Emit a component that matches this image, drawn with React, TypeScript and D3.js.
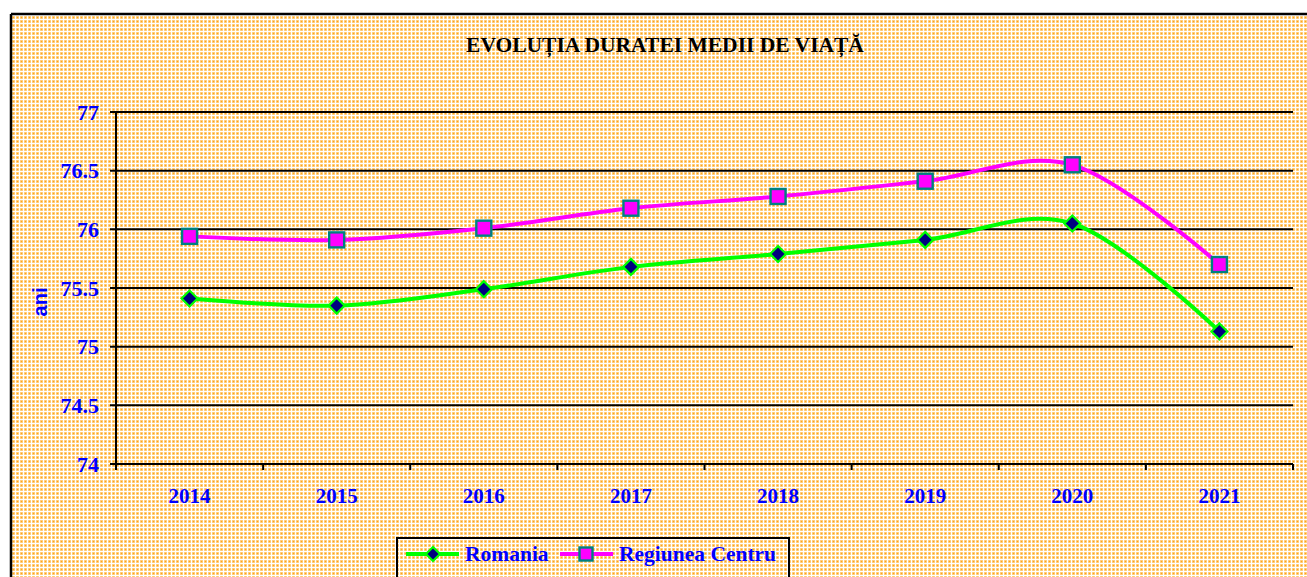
import React from "react";
import * as d3 from "d3";

const years = ["2014", "2015", "2016", "2017", "2018", "2019", "2020", "2021"];
const romania = [75.41, 75.35, 75.49, 75.68, 75.79, 75.91, 76.05, 75.13];
const centru = [75.94, 75.91, 76.01, 76.18, 76.28, 76.41, 76.55, 75.70];
const yTicks = [74, 74.5, 75, 75.5, 76, 76.5, 77];
const title = "EVOLUȚIA DURATEI MEDII DE VIAȚĂ";
const seriesNames = ["Romania", "Regiunea Centru"];

const W = 1307;
const H = 577;
const plot = { left: 116, right: 1293, top: 112, bottom: 464 };

export default function App() {
  const x = d3.scaleBand<string>().domain(years).range([plot.left, plot.right]);
  const y = d3.scaleLinear().domain([74, 77]).range([plot.bottom, plot.top]);
  const cx = (yr: string) => (x(yr) as number) + x.bandwidth() / 2;

  const line = d3
    .line<number>()
    .x((_, i) => cx(years[i]))
    .y((d) => y(d))
    .curve(d3.curveCardinal.tension(0));

  const serif = "'Liberation Serif', 'Times New Roman', serif";
  const sans = "'Liberation Sans', Arial, sans-serif";
  const blue = "#0000FF";

  const boundaries = years.map((yr) => x(yr) as number).concat([plot.right]);

  const diamond = (px: number, py: number, key: string | number, r = 8) => (
    <path
      key={key}
      d={`M${px},${py - r}L${px + r},${py}L${px},${py + r}L${px - r},${py}Z`}
      fill="#000080"
      stroke="#00FF00"
      strokeWidth={2.2}
    />
  );
  const square = (px: number, py: number, key: string | number, s = 15) => (
    <rect
      key={key}
      x={px - s / 2}
      y={py - s / 2}
      width={s}
      height={s}
      fill="#FF00FF"
      stroke="#008080"
      strokeWidth={2.4}
    />
  );

  return (
    <svg
      width={W}
      height={H}
      style={{ position: "absolute", left: 0, top: 0, display: "block" }}
    >
      <defs>
        <pattern id="bg" width={4} height={4} patternUnits="userSpaceOnUse">
          <rect width={4} height={4} fill="#FFFFFF" />
          <rect x={0} y={0} width={3} height={3} fill="#FFD68F" />
          <rect x={0.75} y={0.75} width={1.5} height={1.5} fill="#FFA31A" />
        </pattern>
      </defs>
      <rect x={0} y={0} width={W} height={H} fill="#FFFFFF" />
      <rect x={11} y={14} width={W} height={H} fill="url(#bg)" />
      <line x1={11} y1={14} x2={W} y2={14} stroke="#000" strokeWidth={2.5} />
      <line x1={11} y1={14} x2={11} y2={H} stroke="#000" strokeWidth={2.5} />

      <text
        x={665}
        y={52}
        textAnchor="middle"
        fontFamily={serif}
        fontWeight="bold"
        fontSize={21.5}
        fill="#000"
      >
        {title}
      </text>

      {/* gridlines and y ticks */}
      {yTicks.map((t) => (
        <g key={t}>
          <line
            x1={plot.left - 6}
            x2={plot.right}
            y1={y(t)}
            y2={y(t)}
            stroke="#000"
            strokeWidth={2}
          />
          <text
            x={99}
            y={y(t)}
            dy="0.35em"
            textAnchor="end"
            fontFamily={serif}
            fontWeight="bold"
            fontSize={22}
            fill={blue}
          >
            {t}
          </text>
        </g>
      ))}
      <line
        x1={plot.left}
        x2={plot.left}
        y1={plot.top}
        y2={plot.bottom + 6}
        stroke="#000"
        strokeWidth={2}
      />
      {boundaries.map((bx, i) => (
        <line
          key={i}
          x1={bx}
          x2={bx}
          y1={plot.bottom}
          y2={plot.bottom + 6}
          stroke="#000"
          strokeWidth={2}
        />
      ))}
      {years.map((yr) => (
        <text
          key={yr}
          x={cx(yr)}
          y={503}
          textAnchor="middle"
          fontFamily={serif}
          fontWeight="bold"
          fontSize={21}
          fill={blue}
        >
          {yr}
        </text>
      ))}
      <text
        transform={`translate(47,302) rotate(-90)`}
        textAnchor="middle"
        fontFamily={sans}
        fontWeight="bold"
        fontSize={20}
        fill={blue}
      >
        ani
      </text>

      {/* series */}
      <path d={line(centru) || ""} fill="none" stroke="#FF00FF" strokeWidth={4} />
      <path d={line(romania) || ""} fill="none" stroke="#00FF00" strokeWidth={4} />
      {romania.map((v, i) => diamond(cx(years[i]), y(v), "r" + i))}
      {centru.map((v, i) => square(cx(years[i]), y(v), "c" + i))}

      {/* legend */}
      <rect
        x={397}
        y={538}
        width={392}
        height={50}
        fill="none"
        stroke="#000"
        strokeWidth={2}
      />
      <line x1={406} x2={459} y1={554} y2={554} stroke="#00FF00" strokeWidth={4} />
      {diamond(433, 554, "ld", 7)}
      <text
        x={465}
        y={561}
        fontFamily={serif}
        fontWeight="bold"
        fontSize={21.5}
        fill={blue}
      >
        {seriesNames[0]}
      </text>
      <line x1={560} x2={613} y1={554} y2={554} stroke="#FF00FF" strokeWidth={4} />
      {square(586, 554, "ls", 13)}
      <text
        x={619}
        y={561}
        fontFamily={serif}
        fontWeight="bold"
        fontSize={21.5}
        fill={blue}
      >
        {seriesNames[1]}
      </text>
    </svg>
  );
}
